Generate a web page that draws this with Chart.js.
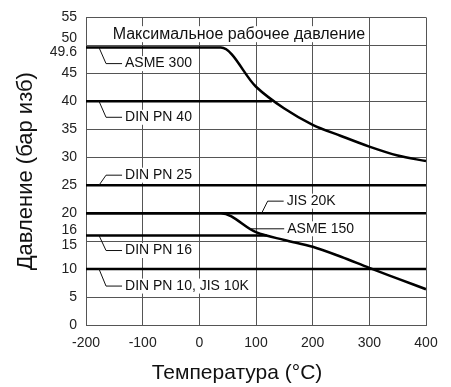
<!DOCTYPE html>
<html>
<head>
<meta charset="utf-8">
<script src="https://cdn.jsdelivr.net/npm/chart.js@4/dist/chart.umd.min.js"></script>
<style>
  html, body { margin: 0; padding: 0; background: #fff; }
  canvas { display: block; }
</style>
</head>
<body>
<canvas id="chart" width="451" height="387"></canvas>
<script>
// ASME curves (temperature °C -> pressure bar g)
const curveTemps = [-200, 38, 100, 150, 200, 250, 300, 350, 400];
const asme300 = [49.6, 49.6, 42.6, 38.7, 35.8, 33.8, 31.9, 30.3, 29.3];
const asme150 = [20, 20, 16.6, 15.2, 14.0, 12.2, 10.2, 8.3, 6.4];

// flat flange ratings
const flatNames = ["JIS 20K", "DIN PN 40", "DIN PN 25", "DIN PN 16", "DIN PN 10, JIS 10K"];
const flatLevels = [20, 40, 25, 16, 10];
const flatEnds = [400, 128, 400, 119, 400];

const xTicks = [-200, -100, 0, 100, 200, 300, 400];
const yTicks = [0, 5, 10, 15, 16, 20, 25, 30, 35, 40, 45, 49.6, 50, 55];
// tick labels that sit too close together get nudged up / down (px)
const nudgedTicks = [50, 49.6, 16, 15];
const nudgeBy = [-7, 5, -5, 4];

const chartTitle = "Максимальное рабочее давление";
const xTitle = "Температура (°C)";
const yTitle = "Давление (бар изб)";

const FONT = "Arial, 'Liberation Sans', sans-serif";

const datasets = [];
datasets.push({
  label: "ASME 300",
  data: curveTemps.map((t, i) => ({ x: t, y: asme300[i] })),
});
datasets.push({
  label: "ASME 150",
  data: curveTemps.map((t, i) => ({ x: t, y: asme150[i] })),
});
flatNames.forEach((name, i) => {
  datasets.push({
    label: name,
    data: [{ x: -200, y: flatLevels[i] }, { x: flatEnds[i], y: flatLevels[i] }],
  });
});
datasets.forEach((ds) => {
  ds.borderColor = "#000";
  ds.borderWidth = 2.5;
  ds.pointRadius = 0;
  ds.fill = false;
  ds.showLine = true;
  ds.cubicInterpolationMode = "monotone";
});

// leader lines: anchor temp, then knee offset (dx, dy) in px
const leaders = {
  "ASME 300": [-177, 7, 16],
  "DIN PN 40": [-177, 7, 16],
  "DIN PN 25": [-177, 7, -10],
  "DIN PN 16": [-177, 7, 15],
  "DIN PN 10, JIS 10K": [-177, 7, 17],
  "JIS 20K": [110, 6, -12],
};

function labelBox(ctx, text, x, y, h) {
  const w = ctx.measureText(text).width;
  ctx.fillStyle = "#fff";
  ctx.fillRect(x - 2, y - h / 2, w + 4, h);
  ctx.fillStyle = "#111";
  ctx.fillText(text, x, y);
}

const annotate = {
  id: "annotate",
  beforeDatasetsDraw(chart) {
    // keep the canvas flushed before the data lines go on
    chart.ctx.getImageData(0, 0, 1, 1);
  },
  afterDatasetsDraw(chart) {
    const ctx = chart.ctx;
    const xs = chart.scales.x;
    const ys = chart.scales.y;
    ctx.save();
    ctx.font = "14px " + FONT;
    ctx.textBaseline = "middle";
    ctx.textAlign = "left";
    ctx.strokeStyle = "#111";
    ctx.lineWidth = 1;

    chart.data.datasets.forEach((ds) => {
      const lead = leaders[ds.label];
      if (!lead) return;
      const x0 = xs.getPixelForValue(lead[0]);
      const y0 = ys.getPixelForValue(ds.data[0].y);
      const x1 = x0 + lead[1];
      const y1 = y0 + lead[2];
      const x2 = x1 + 16;
      ctx.beginPath();
      ctx.moveTo(x0, y0);
      ctx.lineTo(x1, y1);
      ctx.lineTo(x2, y1);
      ctx.stroke();
      labelBox(ctx, ds.label, x2 + 3, y1, 15);
    });

    // ASME 150 leader goes straight right from the curve
    const ay = ys.getPixelForValue(17.2);
    const ax = xs.getPixelForValue(88);
    ctx.beginPath();
    ctx.moveTo(ax, ay);
    ctx.lineTo(ax + 35, ay);
    ctx.stroke();
    labelBox(ctx, "ASME 150", ax + 38, ay, 15);

    // title inside plot
    ctx.font = "16px " + FONT;
    labelBox(ctx, chartTitle, xs.getPixelForValue(-153), ys.getPixelForValue(52), 16);

    // nudged y tick labels
    ctx.font = "14px " + FONT;
    ctx.textAlign = "right";
    ctx.fillStyle = "#222";
    nudgedTicks.forEach((val, i) => {
      ctx.fillText(String(val), ys.right - 9, ys.getPixelForValue(val) + nudgeBy[i]);
    });

    // axis titles
    ctx.fillStyle = "#111";
    ctx.textAlign = "center";
    ctx.font = "21px " + FONT;
    ctx.fillText(xTitle, 237, 373);
    ctx.font = "22px " + FONT;
    ctx.translate(26, (chart.chartArea.top + chart.chartArea.bottom) / 2);
    ctx.rotate(-Math.PI / 2);
    ctx.fillText(yTitle, 0, 0);
    ctx.restore();
  },
  afterDraw(chart) {
    chart.ctx.getImageData(0, 0, 1, 1);
  },
};

const canvas = document.getElementById("chart");
// software canvas: plain 2d context that Chart.js will reuse
canvas.getContext("2d", { willReadFrequently: true });

new Chart(canvas, {
  type: "scatter",
  data: { datasets },
  options: {
    responsive: false,
    animation: false,
    layout: { padding: { top: 9, right: 25 } },
    plugins: { legend: { display: false }, tooltip: { enabled: false } },
    scales: {
      x: {
        type: "linear",
        min: -200,
        max: 400,
        afterBuildTicks: (s) => { s.ticks = xTicks.map((v) => ({ value: v })); },
        afterFit: (s) => { s.height = 62; },
        grid: { color: "#555", lineWidth: 1, drawTicks: false },
        border: { color: "#555", width: 1 },
        ticks: { color: "#222", font: { size: 14, family: FONT }, padding: 10, maxRotation: 0 },
      },
      y: {
        type: "linear",
        min: 0,
        max: 55,
        afterBuildTicks: (s) => { s.ticks = yTicks.map((v) => ({ value: v })); },
        afterFit: (s) => { s.width = 86; },
        grid: {
          color: (c) => (c.tick && (c.tick.value === 16 || c.tick.value === 49.6) ? "rgba(0,0,0,0)" : "#555"),
          lineWidth: 1,
          drawTicks: false,
        },
        border: { color: "#555", width: 1 },
        ticks: {
          color: "#222",
          font: { size: 14, family: FONT },
          padding: 9,
          autoSkip: false,
          callback: (v) => (nudgedTicks.includes(v) ? "" : v),
        },
      },
    },
  },
  plugins: [annotate],
});
</script>
</body>
</html>
